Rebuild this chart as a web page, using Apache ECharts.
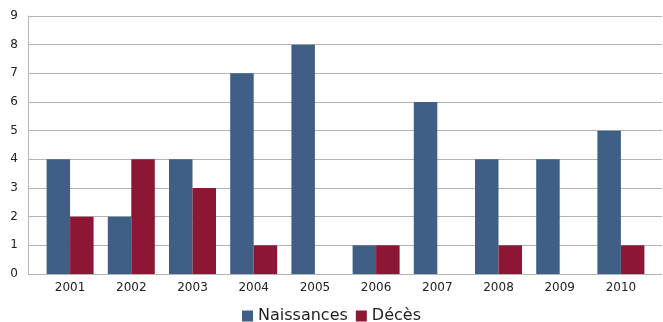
<!DOCTYPE html>
<html><head><meta charset="utf-8">
<script src="https://cdn.jsdelivr.net/npm/echarts@6/dist/echarts.min.js"></script>
<style>html,body{margin:0;padding:0;background:#fff}#c{width:663px;height:322px}</style>
</head><body><div id="c"></div>
<script>
const categories = ['2001','2002','2003','2004','2005','2006','2007','2008','2009','2010'];
const naissances = [4,2,4,7,8,1,6,4,4,5];
const deces = [2,4,3,1,0,1,0,1,0,1];
const yTicks = [0,1,2,3,4,5,6,7,8,9];

const chart = echarts.init(document.getElementById('c'));
const font = 'DejaVu Sans, sans-serif';
chart.setOption({
  animation:false,
  grid:[
    {left:28, top:16, width:634, height:258},
    {left:39.5, top:16, width:612, height:258}
  ],
  legend:{
    data:['Naissances','Décès'], left:'center', top:308, padding:0,
    itemWidth:11, itemHeight:11, itemGap:8, icon:'rect',
    textStyle:{fontFamily:font, fontSize:16, color:'#222'}
  },
  xAxis:[
    {gridIndex:0, type:'value', min:0, max:1, show:false},
    {gridIndex:1, type:'category', data:categories,
     axisLine:{show:false}, axisTick:{show:false},
     axisLabel:{fontFamily:font, fontSize:12, color:'#222', margin:8}}
  ],
  yAxis:[
    {gridIndex:0, type:'value', min:yTicks[0], max:yTicks[yTicks.length-1], interval:1,
     axisLine:{show:true, lineStyle:{color:'#b3b3b3', width:1}},
     axisTick:{show:false},
     splitLine:{lineStyle:{color:'#b3b3b3', width:1}},
     axisLabel:{fontFamily:font, fontSize:12, color:'#222', margin:10}},
    {gridIndex:1, type:'value', min:0, max:9, show:false, splitLine:{show:false}}
  ],
  series:[
    {name:'Naissances', type:'bar', xAxisIndex:1, yAxisIndex:1, data:naissances,
     barWidth:23.5, barGap:'0%', itemStyle:{color:'#405f86'}},
    {name:'Décès', type:'bar', xAxisIndex:1, yAxisIndex:1, data:deces,
     barWidth:23.5, barGap:'0%', itemStyle:{color:'#8c1634'}}
  ]
});
</script></body></html>
